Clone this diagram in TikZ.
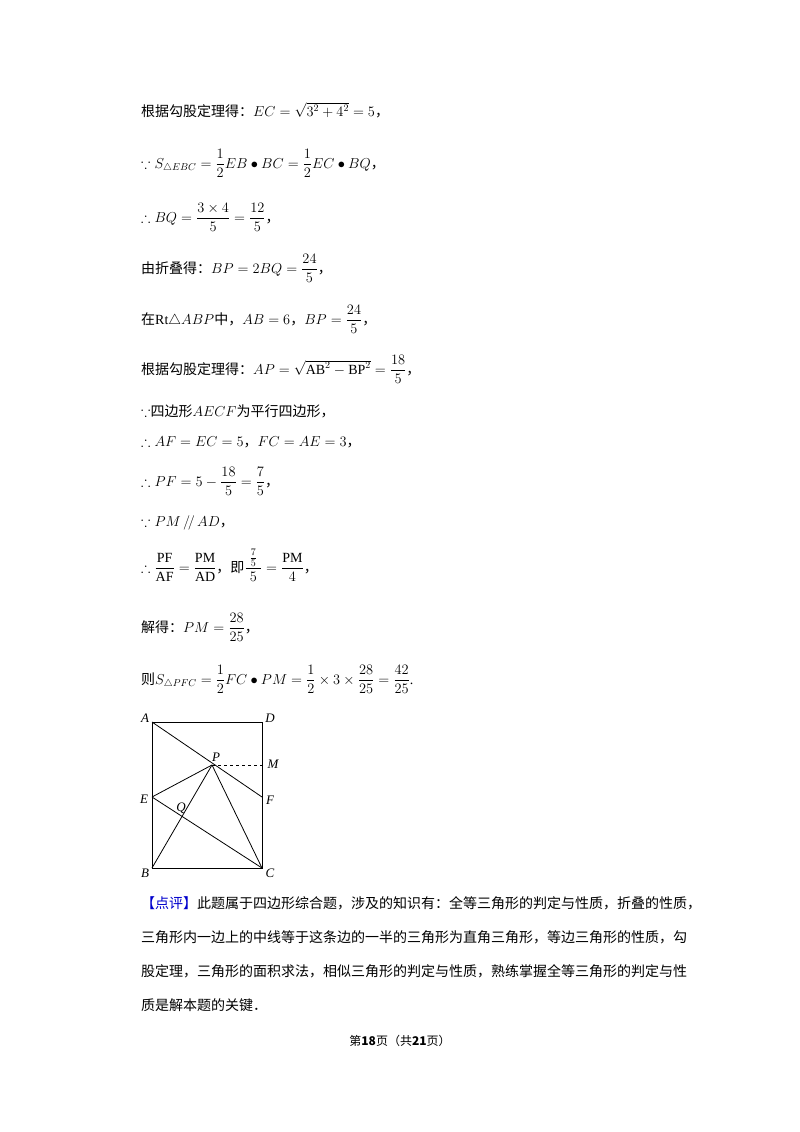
\documentclass[tikz,border=0pt]{standalone}
\usepackage{fontspec}
\usepackage{amsmath,amssymb}
\setmainfont{Liberation Serif}
\newfontfamily\cjk{Noto Sans CJK SC}
\newcommand\zc{{\cjk ，}}
\begin{document}
\begin{tikzpicture}[x=1pt,y=-1pt,
  ln/.style={anchor=base west,inner sep=0pt,font=\fontsize{14}{16}\selectfont},
  lab/.style={font=\fontsize{13}{14}\selectfont\itshape,inner sep=1pt},
  seg/.style={line width=0.8pt}]
\useasboundingbox (0,0) rectangle (800,1132);
\node[ln] (l1) at (141,116) {{\cjk 根据勾股定理得：}$EC=\sqrt{3^2+4^2}=5$\zc};
\node[ln] (l2) at (141,168) {$\because S_{\triangle EBC}=\dfrac12 EB\bullet BC=\dfrac12 EC\bullet BQ$\zc};
\node[ln] (l3) at (141,222) {$\therefore BQ=\dfrac{3\times4}{5}=\dfrac{12}{5}$\zc};
\node[ln] (l4) at (141,273) {{\cjk 由折叠得：}$BP=2BQ=\dfrac{24}{5}$\zc};
\node[ln] (l5) at (141,324) {{\cjk 在}Rt$\triangle ABP${\cjk 中，}$AB=6$\zc$BP=\dfrac{24}{5}$\zc};
\node[ln] (l6) at (141,374) {{\cjk 根据勾股定理得：}$AP=\sqrt{\mathrm{AB}^2-\mathrm{BP}^2}=\dfrac{18}{5}$\zc};
\node[ln] (l7) at (141,416) {$\because${\cjk 四边形}$AECF${\cjk 为平行四边形，}};
\node[ln] (l8) at (141,446) {$\therefore AF=EC=5$\zc$FC=AE=3$\zc};
\node[ln] (l9) at (141,486) {$\therefore PF=5-\dfrac{18}{5}=\dfrac75$\zc};
\node[ln] (l10) at (141,526) {$\because PM\,/\!/\,AD$\zc};
\node[ln] (l11) at (141,572) {$\therefore \dfrac{\mathrm{PF}}{\mathrm{AF}}=\dfrac{\mathrm{PM}}{\mathrm{AD}}$\zc{\cjk 即}$\dfrac{\;\frac75\;}{5}=\dfrac{\mathrm{PM}}{4}$\zc};
\node[ln] (l12) at (141,632) {{\cjk 解得：}$PM=\dfrac{28}{25}$\zc};
\node[ln] (l13) at (141,684) {{\cjk 则}$S_{\triangle PFC}=\dfrac12 FC\bullet PM=\dfrac12\times3\times\dfrac{28}{25}=\dfrac{42}{25}$.};
% figure
\coordinate (A) at (152,722); \coordinate (D) at (262,722);
\coordinate (B) at (152,868); \coordinate (C) at (262,868);
\coordinate (E) at (152,797); \coordinate (F) at (262,797);
\coordinate (P) at (212,765); \coordinate (Mc) at (262,765);
\coordinate (Q) at (182,817);
\draw[seg] (A)--(D)--(C)--(B)--cycle;
\draw[seg] (A)--(F); \draw[seg] (E)--(C); \draw[seg] (E)--(P)--(C); \draw[seg] (B)--(P);
\draw[seg,dashed,line width=0.6pt] (P)--(Mc);
\node[lab] (nA) at (145,718) {A}; \node[lab] (nD) at (270,718) {D};
\node[lab] (nB) at (145,873) {B}; \node[lab] (nC) at (270,873) {C};
\node[lab] (nE) at (144,799) {E}; \node[lab] (nF) at (270,800) {F};
\node[lab] (nP) at (216,757) {P}; \node[lab] (nM) at (273,764) {M};
\node[lab] (nQ) at (181,808) {Q};
% comment
\node[ln,font=\fontsize{14}{16}\selectfont\cjk] (c1) at (141,908) {\textcolor{blue!80!black}{【点评】}此题属于四边形综合题，涉及的知识有：全等三角形的判定与性质，折叠的性质，};
\node[ln,font=\fontsize{14}{16}\selectfont\cjk] (c2) at (141,942) {三角形内一边上的中线等于这条边的一半的三角形为直角三角形，等边三角形的性质，勾};
\node[ln,font=\fontsize{14}{16}\selectfont\cjk] (c3) at (141,976) {股定理，三角形的面积求法，相似三角形的判定与性质，熟练掌握全等三角形的判定与性};
\node[ln,font=\fontsize{14}{16}\selectfont\cjk] (c4) at (141,1010) {质是解本题的关键．};
\node[anchor=base,inner sep=0pt,font=\fontsize{12}{14}\selectfont\cjk] (ft) at (400,1045) {第\textbf{18}页（共\textbf{21}页）};
\end{tikzpicture}
\end{document}
